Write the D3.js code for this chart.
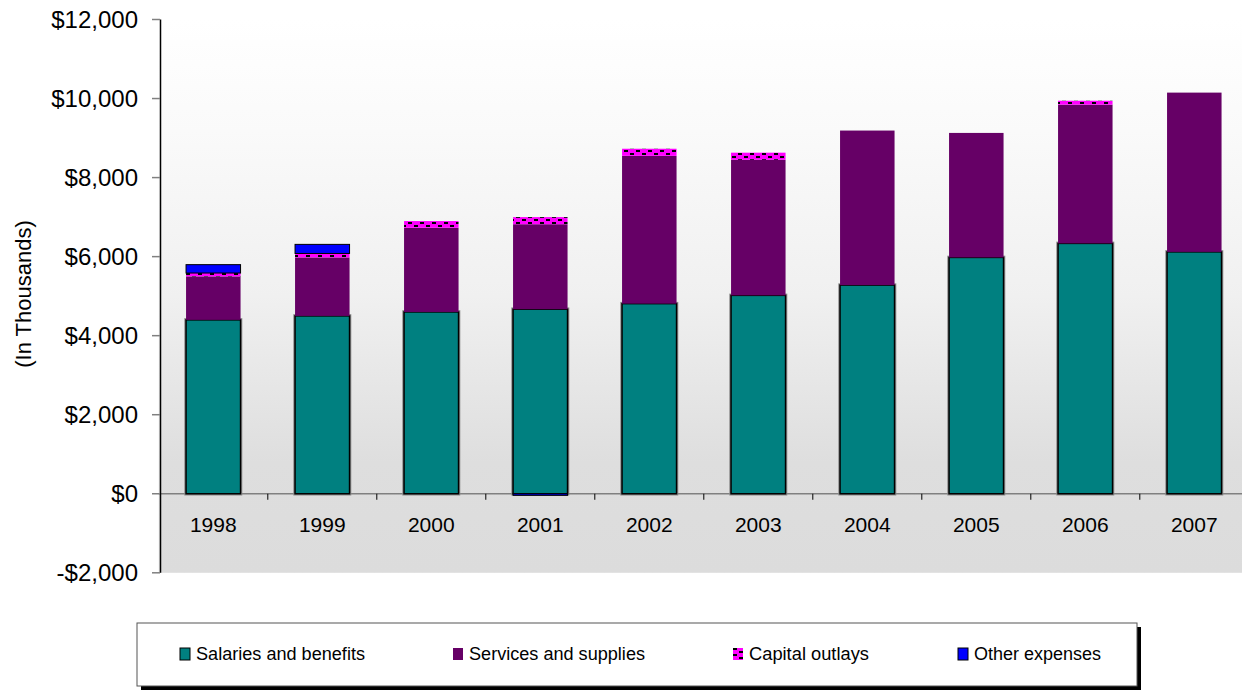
<!DOCTYPE html>
<html>
<head>
<meta charset="utf-8">
<script src="https://cdn.jsdelivr.net/npm/d3@7"></script>
<style>
  body { margin: 0; background: #fff; }
  svg { display: block; font-family: "Liberation Sans", Arial, sans-serif; }
</style>
</head>
<body>
<svg id="chart" width="1242" height="692"></svg>
<script>
// data (in thousands)
const years = ["1998", "1999", "2000", "2001", "2002", "2003", "2004", "2005", "2006", "2007"];
const salaries = [4400, 4500, 4600, 4670, 4810, 5020, 5280, 5980, 6335, 6120];
const services = [1100, 1480, 2130, 2150, 3740, 3430, 3910, 3150, 3510, 4030];
const capital = [85, 100, 170, 180, 180, 180, 0, 0, 100, 0];
const other = [212, 230, 0, -40, 0, 0, 0, 0, 0, 0];
const yTicks = [-2000, 0, 2000, 4000, 6000, 8000, 10000, 12000];

const seriesNames = ["Salaries and benefits", "Services and supplies", "Capital outlays", "Other expenses"];
const keys = ["salaries", "services", "capital", "other"];

const rows = years.map((yr, i) => ({
    year: yr, salaries: salaries[i], services: services[i], capital: capital[i], other: other[i]
}));

const svg = d3.select("#chart");
const defs = svg.append("defs");

// plot background gradient
const grad = defs.append("linearGradient").attr("id", "bg")
    .attr("x1", 0).attr("y1", 0).attr("x2", 0).attr("y2", 1);
[[0, "#ffffff"], [0.2, "#fafafa"], [0.5, "#f0f0f0"], [0.8, "#dedede"], [1, "#dcdcdc"]]
    .forEach(s => grad.append("stop").attr("offset", s[0]).attr("stop-color", s[1]));

// dotted magenta pattern for capital outlays
const pat = defs.append("pattern").attr("id", "capPat")
    .attr("patternUnits", "userSpaceOnUse").attr("width", 12).attr("height", 6);
pat.append("rect").attr("width", 12).attr("height", 6).attr("fill", "#ff00ff");
pat.append("rect").attr("x", 0).attr("y", 0).attr("width", 4).attr("height", 2).attr("fill", "#000");
pat.append("rect").attr("x", 6).attr("y", 3).attr("width", 4).attr("height", 2).attr("fill", "#000");

const plotLeft = 158.8, plotRight = 1248.8, plotTop = 19.5, plotBottom = 572.8;

const x = d3.scaleBand().domain(years).range([plotLeft, plotRight]).paddingInner(0.5).paddingOuter(0.25);
const y = d3.scaleLinear().domain([-2000, 12000]).range([plotBottom, plotTop]);

svg.append("rect")
    .attr("x", plotLeft).attr("y", plotTop)
    .attr("width", 1242 - plotLeft).attr("height", plotBottom - plotTop)
    .attr("fill", "url(#bg)");

// zero line
svg.append("line")
    .attr("x1", plotLeft).attr("x2", 1242)
    .attr("y1", y(0)).attr("y2", y(0))
    .attr("stroke", "#808080").attr("stroke-width", 1.5);

// category separators below the zero line
svg.append("g").selectAll("line")
    .data(years.slice(1))
    .join("line")
    .attr("x1", d => x(d) - x.step() * 0.25).attr("x2", d => x(d) - x.step() * 0.25)
    .attr("y1", y(0)).attr("y2", y(0) + 6)
    .attr("stroke", "#000").attr("stroke-width", 1);

// stacked bars
const stack = d3.stack().keys(keys).offset(d3.stackOffsetDiverging);
const layers = stack(rows);

const fills = { salaries: "#008080", services: "#660066", capital: "url(#capPat)", other: "#0000ff" };

layers.forEach(layer => {
    const k = layer.key;
    const g = svg.append("g");
    const data = layer.filter(d => d[1] !== d[0]);
    if (k === "salaries") {
        // soft gray halo around the teal bars
        g.selectAll("rect.halo")
            .data(data)
            .join("rect")
            .attr("class", "halo")
            .attr("x", d => x(d.data.year))
            .attr("y", d => y(d[1]))
            .attr("width", x.bandwidth())
            .attr("height", d => y(d[0]) - y(d[1]))
            .attr("fill", "none")
            .attr("stroke", "#8a8a8a").attr("stroke-width", 3.5);
    }
    g.selectAll("rect.bar")
        .data(data)
        .join("rect")
        .attr("class", "bar")
        .attr("x", d => x(d.data.year))
        .attr("y", d => y(Math.max(d[0], d[1])))
        .attr("width", x.bandwidth())
        .attr("height", d => Math.abs(y(d[0]) - y(d[1])))
        .attr("fill", fills[k])
        .attr("stroke", (k === "salaries" || k === "other") ? "#000" : "none")
        .attr("stroke-width", k === "other" ? 1 : 1.5);
});

// y axis
svg.append("line")
    .attr("x1", 160.5).attr("x2", 160.5)
    .attr("y1", plotTop).attr("y2", plotBottom)
    .attr("stroke", "#000").attr("stroke-width", 1.5);

const yt = svg.append("g");
yt.selectAll("line")
    .data(yTicks)
    .join("line")
    .attr("x1", 152).attr("x2", 160)
    .attr("y1", d => y(d)).attr("y2", d => y(d))
    .attr("stroke", "#808080").attr("stroke-width", 1.5);

const fmt = d => (d < 0 ? "-$" : "$") + d3.format(",")(Math.abs(d));
yt.selectAll("text")
    .data(yTicks)
    .join("text")
    .attr("x", 138).attr("y", d => y(d))
    .attr("dy", "0.36em")
    .attr("text-anchor", "end")
    .attr("font-size", 24)
    .attr("fill", "#000")
    .text(fmt);

// x labels
svg.append("g").selectAll("text")
    .data(years)
    .join("text")
    .attr("x", d => x(d) + x.bandwidth() / 2)
    .attr("y", 532)
    .attr("text-anchor", "middle")
    .attr("font-size", 21)
    .text(d => d);

// y title
svg.append("text")
    .attr("transform", "translate(31,294) rotate(-90)")
    .attr("text-anchor", "middle")
    .attr("font-size", 22)
    .text("(In Thousands)");

// legend
const lg = svg.append("g");
lg.append("rect")
    .attr("x", 141).attr("y", 627).attr("width", 1000).attr("height", 63)
    .attr("fill", "#000");
lg.append("rect")
    .attr("x", 137).attr("y", 623).attr("width", 1000).attr("height", 63)
    .attr("fill", "#fff").attr("stroke", "#555").attr("stroke-width", 1);

const legendX = [180, 453, 733, 958];
const legendFill = ["#008080", "#660066", "url(#capPat)", "#0000ff"];
const items = lg.selectAll("g.item")
    .data(seriesNames)
    .join("g")
    .attr("class", "item")
    .attr("transform", (d, i) => `translate(${legendX[i]},648)`);

items.append("rect")
    .attr("width", 10).attr("height", 12)
    .attr("fill", (d, i) => legendFill[i])
    .attr("stroke", (d, i) => (i === 1 || i === 2) ? "none" : "#000")
    .attr("stroke-width", 1);

items.append("text")
    .attr("x", 16).attr("y", 12)
    .attr("font-size", 17.5)
    .attr("textLength", (d, i) => [169, 176, 120, 127][i])
    .attr("lengthAdjust", "spacingAndGlyphs")
    .text(d => d);
</script>
</body>
</html>
